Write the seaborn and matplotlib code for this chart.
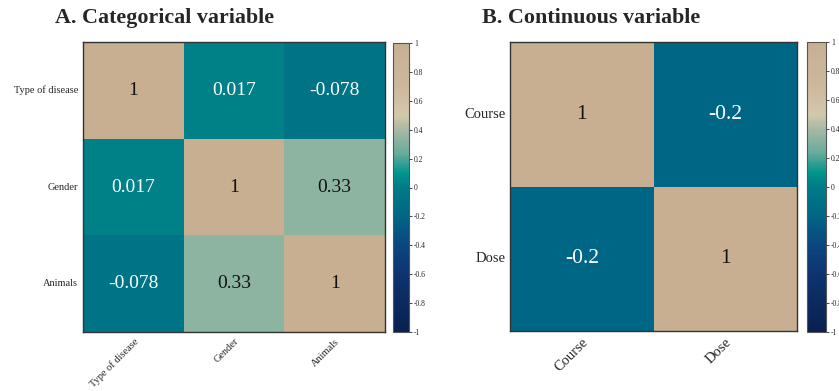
import numpy as np
import pandas as pd
import matplotlib
matplotlib.use('Agg')
import matplotlib.pyplot as plt
import seaborn as sns
from matplotlib.colors import LinearSegmentedColormap

# correlation values
cat_vars = ['Type of disease', 'Gender', 'Animals']
cat_corr = [[1, 0.017, -0.078],
            [0.017, 1, 0.33],
            [-0.078, 0.33, 1]]
cont_vars = ['Course', 'Dose']
cont_corr = [[1, -0.2],
             [-0.2, 1]]
cbar_ticks = [-1, -0.8, -0.6, -0.4, -0.2, 0, 0.2, 0.4, 0.6, 0.8, 1]

sns.set_style('white')
plt.rcParams['font.family'] = ['Liberation Serif', 'DejaVu Serif']
plt.rcParams['axes.unicode_minus'] = False

# navy -> teal -> beige -> tan
cmap = LinearSegmentedColormap.from_list('corr', [
    (0.0, '#0a2050'),
    (0.2, '#0d3470'),
    (0.3, '#0b4680'),
    (0.4, '#006686'),
    (0.5, '#007c87'),
    (0.55, '#00968c'),
    (0.62, '#6aab9c'),
    (0.7, '#a6b9a5'),
    (0.75, '#d3c8aa'),
    (0.85, '#cdb89c'),
    (1.0, '#c8af92'),
])

df_a = pd.DataFrame(cat_corr, index=cat_vars, columns=cat_vars)
df_b = pd.DataFrame(cont_corr, index=cont_vars, columns=cont_vars)

fig = plt.figure(figsize=(8.39, 3.91), dpi=100)
W, H = 839, 391

def box(x0, y0, x1, y1):
    return [x0 / W, 1 - y1 / H, (x1 - x0) / W, (y1 - y0) / H]

ax_a = fig.add_axes(box(83, 42, 385, 332))
cax_a = fig.add_axes(box(393, 43, 409, 332))
ax_b = fig.add_axes(box(510, 42, 797, 331))
cax_b = fig.add_axes(box(807, 42, 826, 332))

panels = [
    (ax_a, cax_a, df_a, 'A. Categorical variable', 7.5, 14, 55),
    (ax_b, cax_b, df_b, 'B. Continuous variable', 10.5, 15.5, 482),
]

for ax, cax, df, title, lab_size, ann_size, title_x in panels:
    sns.heatmap(df, ax=ax, cbar_ax=cax, cmap=cmap, vmin=-1, vmax=1,
                annot=True, fmt='.2g', annot_kws={'size': ann_size})
    # dark text on the light cells, white on the teal/blue ones
    for txt, v in zip(ax.texts, df.values.ravel()):
        txt.set_color('#111111' if v >= 0.3 else 'white')
    ax.tick_params(length=0, labelsize=lab_size)
    ax.set_yticklabels(ax.get_yticklabels(), rotation=0)
    ax.set_xticklabels(ax.get_xticklabels(), rotation=45, ha='right',
                       rotation_mode='anchor')
    for s in ax.spines.values():
        s.set_visible(True)
        s.set_color('#333333')
        s.set_linewidth(1)
    cbar = ax.collections[0].colorbar
    cbar.set_ticks(cbar_ticks)
    cbar.set_ticklabels(['%g' % t for t in cbar_ticks])
    cbar.ax.tick_params(labelsize=5.5, length=2.5, width=0.6, pad=1)
    cbar.outline.set_visible(True)
    cbar.outline.set_edgecolor('#555555')
    cbar.outline.set_linewidth(0.8)
    fig.text(title_x / W, 1 - 18 / H, title, fontsize=15.8,
             fontweight='bold', va='center', ha='left')

fig.savefig('out.png', dpi=100)
